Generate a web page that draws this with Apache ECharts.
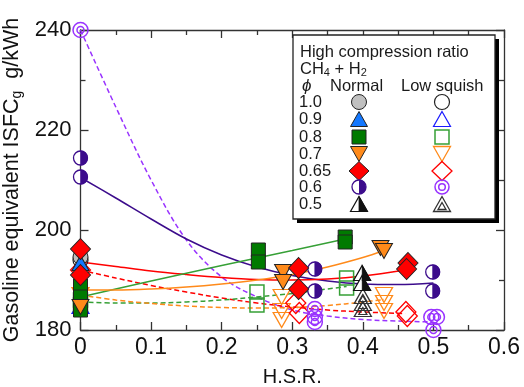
<!DOCTYPE html>
<html><head><meta charset="utf-8">
<script src="https://cdn.jsdelivr.net/npm/echarts@6/dist/echarts.min.js"></script>
<style>html,body{margin:0;padding:0;background:#fff}#c{width:524px;height:387px}</style>
</head><body><div id="c"></div>
<script>
// ---------- tick values ----------
const xTicks = [0, 0.1, 0.2, 0.3, 0.4, 0.5, 0.6];
const yTicks = [180, 200, 220, 240];

// ---------- legend labels ----------
const phiLabels = ['1.0', '0.9', '0.8', '0.7', '0.65', '0.6', '0.5'];

// ---------- Normal (filled markers) [H.S.R., ISFC] ----------
const n10 = [[0, 194.6]];
const n09 = [[0, 193.4]];
const n08 = [[0, 188.8], [0, 186.6], [0, 184.0], [0.252, 196.0], [0.252, 193.6], [0.375, 198.6], [0.375, 197.6]];
const n07 = [[0, 184.6], [0.287, 191.6], [0.287, 189.6], [0.425, 196.4], [0.43, 195.8]];
const n065 = [[0, 196.2], [0, 191.0], [0.309, 192.4], [0.309, 188.2], [0.464, 193.4], [0.462, 192.2]];
const n06 = [[0, 214.4], [0, 210.6], [0.332, 192.2], [0.332, 187.8], [0.499, 191.6], [0.499, 187.8]];
const n05 = [[0.399, 191.4], [0.399, 189.4]];

// ---------- Low squish (hollow markers) ----------
const l10 = [[0, 194.0]];
const l09 = [[0, 184.8]];
const l08 = [[0, 186.0], [0, 185.0], [0.25, 187.6], [0.25, 185.0], [0.377, 190.4], [0.377, 188.4]];
const l07 = [[0, 187.0], [0.285, 186.6], [0.285, 183.8], [0.285, 182.0], [0.43, 187.0], [0.43, 185.4], [0.43, 183.8]];
const l065 = [[0, 192.0], [0.305, 185.4], [0.31, 183.4], [0.461, 183.6], [0.463, 182.8]];
const l06 = [[0, 240.0], [0.332, 184.2], [0.332, 182.6], [0.332, 181.6], [0.497, 182.6], [0.505, 182.6], [0.5, 180.0]];
const l05 = [[0.4, 186.8], [0.4, 185.4], [0.4, 184.2]];

// ---------- fitted curves ----------
const fitN06 = [[0, 210.5], [0.05, 206.4], [0.1, 202.2], [0.15, 198.2], [0.2, 195.0], [0.25, 192.6], [0.3, 190.9], [0.35, 189.8], [0.4, 189.2], [0.45, 189.1], [0.5, 189.4]];
const fitL06 = [[0, 240.0], [0.05, 224.6], [0.1, 210.0], [0.15, 198.0], [0.2, 190.6], [0.25, 186.6], [0.3, 184.0], [0.35, 182.8], [0.4, 182.1], [0.45, 181.8], [0.5, 181.6]];
const fitN065 = [[0, 193.6], [0.05, 192.7], [0.1, 191.8], [0.15, 191.1], [0.2, 190.5], [0.25, 190.1], [0.3, 190.0], [0.35, 190.2], [0.4, 190.8], [0.46, 192.0]];
const fitL065 = [[0, 192.0], [0.05, 190.4], [0.1, 188.9], [0.15, 187.6], [0.2, 186.4], [0.25, 185.4], [0.3, 184.6], [0.35, 184.0], [0.4, 183.6], [0.46, 183.3]];
const fitN08 = [[0, 186.6], [0.1, 189.8], [0.2, 192.9], [0.3, 195.9], [0.375, 198.2]];
const fitL08 = [[0, 185.6], [0.05, 185.4], [0.1, 185.4], [0.15, 185.6], [0.2, 186.0], [0.25, 186.6], [0.3, 187.3], [0.35, 188.2], [0.377, 188.7]];
const fitN07 = [[0, 188.0], [0.05, 188.0], [0.1, 188.2], [0.15, 188.6], [0.2, 189.2], [0.25, 190.0], [0.3, 191.1], [0.35, 192.6], [0.4, 194.5], [0.43, 195.9]];
const fitL07 = [[0, 187.0], [0.05, 186.0], [0.1, 185.3], [0.15, 184.8], [0.2, 184.5], [0.25, 184.4], [0.3, 184.5], [0.35, 184.9], [0.4, 185.6], [0.43, 186.1]];

// ---------- styling ----------
const FONT = '"Liberation Sans", Arial, sans-serif';
const C = {
  gray: '#c0c0c0', blue: '#1478ff', blueH: '#1a1aff', green: '#007a00', greenL: '#36a036',
  orange: '#ff8a1a', red: '#ff0000', purple: '#3c0c8c', violet: '#9933ff', black: '#111', edge: '#222'
};
const NONE = 'rgba(0,0,0,0)';
const HALF_CIRCLE = 'path://M0,0 A10,10 0 0 1 0,20 Z';
const HALF_TRI = 'path://M0,0 L10,20 L0,20 Z';

const series = [];
function line(data, color, dashed) {
  series.push({
    type: 'line', data, smooth: 0.35, symbol: 'none', silent: true, animation: false, z: 2,
    lineStyle: { color, width: 1.5, type: dashed ? [5, 3] : 'solid' }
  });
}
function pts(data, symbol, size, fill, stroke, bw, z, extra) {
  series.push(Object.assign({
    type: 'scatter', data, symbol, symbolSize: size, silent: true, animation: false, z,
    itemStyle: { color: fill, borderColor: stroke, borderWidth: bw, opacity: 1 }
  }, extra || {}));
}

line(fitL06, C.violet, true);
line(fitL065, C.red, true);
line(fitL08, C.greenL, true);
line(fitL07, C.orange, true);
line(fitN06, C.purple, false);
line(fitN065, C.red, false);
line(fitN08, C.greenL, false);
line(fitN07, C.orange, false);

// low squish markers
pts(l10, 'circle', 15, NONE, C.edge, 1.2, 3);
pts(l09, 'triangle', [17, 15], NONE, C.blueH, 1.2, 3);
pts(l08, 'rect', 14, NONE, C.greenL, 1.5, 3);
pts(l07, 'triangle', [17, 15], NONE, C.orange, 1.3, 3, { symbolRotate: 180 });
pts(l065, 'diamond', [20, 21], NONE, C.red, 1.3, 3);
pts(l06, 'circle', 15, NONE, C.violet, 1.5, 3);
pts(l06, 'circle', 7, NONE, C.violet, 1.5, 3);
pts(l05, 'triangle', [17, 15], NONE, '#333', 1.3, 3);
pts(l05, 'triangle', [8, 7], NONE, '#333', 1.3, 3, { symbolOffset: [0, 2] });

// normal markers
pts(n10, 'circle', 15, C.gray, C.edge, 1, 4);
pts(n09, 'triangle', [17, 15], C.blue, C.edge, 1, 4);
pts(n08, 'rect', 14, C.green, C.edge, 1, 4);
pts(n07, 'triangle', [17, 15], C.orange, C.edge, 1, 4, { symbolRotate: 180 });
pts(n065, 'diamond', [20, 21], C.red, C.edge, 1, 5);
pts(n06, 'circle', 14, '#fff', C.purple, 1.3, 4);
pts(n06, HALF_CIRCLE, [7, 14], C.purple, C.purple, 0.8, 5, { symbolOffset: [3.5, 0] });
pts(n05, 'triangle', [17, 15], '#fff', C.black, 1.2, 4);
pts(n05, HALF_TRI, [8.5, 15], C.black, C.black, 0.8, 5, { symbolOffset: [4.25, 0] });

// ---------- legend (graphic) ----------
const G = [];
const LX = 293, LY = 35, LW = 202, LH = 184;
G.push({ type: 'rect', shape: { x: LX + 4, y: LY + 4, width: LW, height: LH }, style: { fill: '#000' }, z: 100 });
G.push({ type: 'rect', shape: { x: LX, y: LY, width: LW, height: LH }, style: { fill: '#fff', stroke: '#222', lineWidth: 1.3 }, z: 101 });
const tFont = '16.5px ' + FONT;
function txt(x, y, text, extra) {
  G.push({ type: 'text', x, y, z: 102, style: Object.assign({ text, font: tFont, fill: '#1a1a1a', verticalAlign: 'middle', align: 'left' }, extra || {}) });
}
txt(300, 52, 'High compression ratio');
txt(300, 69, '{a|CH}{s|4}{a| + H}{s|2}', {
  rich: { a: { fontSize: 16.5, fontFamily: FONT, lineHeight: 18, fill: '#1a1a1a' }, s: { fontSize: 11, fontFamily: FONT, lineHeight: 11, verticalAlign: 'bottom', fill: '#1a1a1a' } }
});
txt(302, 86, 'ϕ', { font: 'italic 17px ' + FONT });
txt(330, 86, 'Normal');
txt(401, 86, 'Low squish');
const rowsY = [102, 119, 137, 154, 171, 187, 204];
phiLabels.forEach((p, i) => txt(299, rowsY[i], p));
const NX = 359, HX = 442;
function poly(points, fill, stroke, lw) { G.push({ type: 'polygon', shape: { points }, style: { fill, stroke, lineWidth: lw }, z: 103 }); }
function circ(cx, cy, r, fill, stroke, lw) { G.push({ type: 'circle', shape: { cx, cy, r }, style: { fill, stroke, lineWidth: lw }, z: 103 }); }
function triUp(cx, cy, w, h) { return [[cx, cy - h / 2], [cx + w / 2, cy + h / 2], [cx - w / 2, cy + h / 2]]; }
function triDn(cx, cy, w, h) { return [[cx - w / 2, cy - h / 2], [cx + w / 2, cy - h / 2], [cx, cy + h / 2]]; }
function dia(cx, cy, w, h) { return [[cx, cy - h / 2], [cx + w / 2, cy], [cx, cy + h / 2], [cx - w / 2, cy]]; }
function sq(cx, cy, s) { return [[cx - s / 2, cy - s / 2], [cx + s / 2, cy - s / 2], [cx + s / 2, cy + s / 2], [cx - s / 2, cy + s / 2]]; }
// normal column
circ(NX, rowsY[0], 7.5, C.gray, C.edge, 1);
poly(triUp(NX, rowsY[1], 17, 15), C.blue, C.edge, 1);
poly(sq(NX, rowsY[2], 14), C.green, C.edge, 1);
poly(triDn(NX, rowsY[3], 17, 15), C.orange, C.edge, 1);
poly(dia(NX, rowsY[4], 20, 19), C.red, C.edge, 1);
circ(NX, rowsY[5], 7, '#fff', C.purple, 1.3);
G.push({ type: 'sector', shape: { cx: NX, cy: rowsY[5], r0: 0, r: 7, startAngle: -Math.PI / 2, endAngle: Math.PI / 2, clockwise: true }, style: { fill: C.purple }, z: 104 });
poly(triUp(NX, rowsY[6], 17, 15), '#fff', C.black, 1.2);
poly([[NX, rowsY[6] - 7.5], [NX + 8.5, rowsY[6] + 7.5], [NX, rowsY[6] + 7.5]], C.black, C.black, 0.8);
// low squish column
circ(HX, rowsY[0], 7.5, '#fff', C.edge, 1.2);
poly(triUp(HX, rowsY[1], 17, 15), NONE, C.blueH, 1.2);
poly(sq(HX, rowsY[2], 14), NONE, C.greenL, 1.5);
poly(triDn(HX, rowsY[3], 17, 15), NONE, C.orange, 1.3);
poly(dia(HX, rowsY[4], 20, 19), NONE, C.red, 1.3);
circ(HX, rowsY[5], 7, NONE, C.violet, 1.5);
circ(HX, rowsY[5], 3.3, NONE, C.violet, 1.5);
poly(triUp(HX, rowsY[6], 17, 15), NONE, '#333', 1.3);
poly(triUp(HX, rowsY[6] + 2, 8, 7), NONE, '#333', 1.3);

// ---------- axes ----------
const axisLineStyle = { color: '#333', width: 1.3 };
function xAx(pos, show) {
  return {
    type: 'value', position: pos, min: xTicks[0], max: xTicks[xTicks.length - 1], interval: xTicks[1] - xTicks[0],
    axisLine: { show: true, onZero: false, lineStyle: axisLineStyle },
    axisTick: { show: true, inside: true, length: 8, lineStyle: axisLineStyle },
    minorTick: { show: true, splitNumber: 2, length: 5, lineStyle: axisLineStyle },
    splitLine: { show: false },
    axisLabel: { show, fontSize: 23, fontFamily: FONT, color: '#111', margin: 6, formatter: v => (v === 0 ? '0' : v.toFixed(1)) },
    name: show ? 'H.S.R.' : '', nameLocation: 'middle', nameGap: 37,
    nameTextStyle: { fontSize: 20, fontFamily: FONT, color: '#111' }
  };
}
function yAx(pos, show) {
  return {
    type: 'value', position: pos, min: yTicks[0], max: yTicks[yTicks.length - 1], interval: yTicks[1] - yTicks[0],
    axisLine: { show: true, onZero: false, lineStyle: axisLineStyle },
    axisTick: { show: true, inside: true, length: 8, lineStyle: axisLineStyle },
    minorTick: { show: true, splitNumber: 2, length: 5, lineStyle: axisLineStyle },
    splitLine: { show: false },
    axisLabel: { show, fontSize: 22, fontFamily: FONT, color: '#111', margin: 9 },
    name: show ? '{a|Gasoline equivalent ISFC}{s|g}{a|  g/kWh}' : '', nameLocation: 'middle', nameGap: 40, nameRotate: 90,
    nameTextStyle: {
      rich: {
        a: { fontSize: 21.5, fontFamily: FONT, color: '#111', lineHeight: 24 },
        s: { fontSize: 14, fontFamily: FONT, color: '#111', lineHeight: 14, verticalAlign: 'bottom' }
      }
    }
  };
}

const chart = echarts.init(document.getElementById('c'), null, { renderer: 'canvas' });
chart.setOption({
  animation: false,
  backgroundColor: '#fff',
  grid: { left: 80.5, right: 20, top: 30, bottom: 57, containLabel: false, outerBoundsMode: 'none' },
  xAxis: [xAx('bottom', true), xAx('top', false)],
  yAxis: [yAx('left', true), yAx('right', false)],
  series,
  graphic: G
});
</script></body></html>
